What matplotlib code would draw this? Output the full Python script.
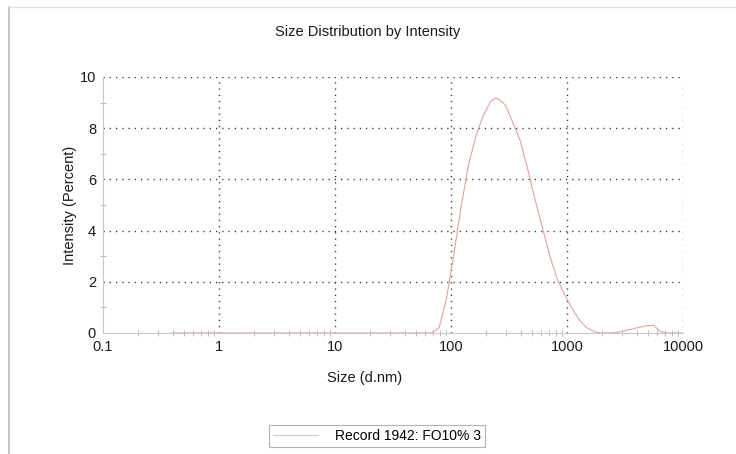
import matplotlib.pyplot as plt
from matplotlib.lines import Line2D
from matplotlib.ticker import LogLocator, FixedLocator, FixedFormatter, NullFormatter

plt.rcParams['font.family'] = ['Liberation Sans', 'DejaVu Sans']
plt.rcParams['font.size'] = 10

# size bins (d.nm) and intensity (%)
sizes = [0.4, 1, 10, 50, 68, 79, 91, 106, 122, 142, 164, 190, 220, 240, 255,
         295, 342, 396, 459, 531, 615, 712, 825, 955, 1106, 1281, 1484, 1718,
         1990, 2305, 2669, 3091, 3580, 4145, 4801, 5560, 6439, 7456, 8635, 10000]
intensity = [0, 0, 0, 0, 0, 0.2, 1.3, 3.1, 4.9, 6.6, 7.7, 8.5, 9.05, 9.17, 9.15,
             8.9, 8.2, 7.5, 6.4, 5.2, 4.1, 3.0, 2.1, 1.5, 0.95, 0.5, 0.2, 0.05,
             0, 0, 0.02, 0.08, 0.15, 0.22, 0.28, 0.3, 0.05, 0, 0, 0]

x_ticks = [0.1, 1, 10, 100, 1000, 10000]
x_labels = ['0.1', '1', '10', '100', '1000', '10000']
y_ticks = [0, 2, 4, 6, 8, 10]

fig = plt.figure(figsize=(7.36, 4.54), dpi=100)
ax = fig.add_axes([103 / 736, 1 - 333 / 454, 580 / 736, 256 / 454])

line, = ax.plot(sizes, intensity, color='#e2a2a2', lw=0.8,
                label='Record 1942: FO10% 3', zorder=3)

ax.set_xscale('log')
ax.set_xlim(0.1, 10000)
ax.set_ylim(0, 10)

ax.xaxis.set_major_locator(FixedLocator(x_ticks))
ax.xaxis.set_major_formatter(FixedFormatter(x_labels))
ax.xaxis.set_minor_locator(LogLocator(base=10, subs=range(2, 10)))
ax.xaxis.set_minor_formatter(NullFormatter())
ax.yaxis.set_major_locator(FixedLocator(y_ticks))
ax.yaxis.set_minor_locator(FixedLocator([1, 3, 5, 7, 9]))

ax.tick_params(which='major', length=0, pad=5, labelsize=10.5, labelcolor='#1a1a1a')
ax.tick_params(which='minor', direction='inout', length=5, width=0.6, color='#b0b0b0')

for side in ['top', 'right']:
    ax.spines[side].set_visible(False)
for side in ['left', 'bottom']:
    ax.spines[side].set_color('#c8c8c8')
    ax.spines[side].set_linewidth(0.8)

grid_style = dict(color='#333333', lw=1.0, linestyle=(0, (0.9, 3.6)), zorder=1)
for yv in y_ticks[1:]:
    ax.axhline(yv, **grid_style)
for xv in x_ticks[1:]:
    ax.axvline(xv, **grid_style)

ax.set_xlabel('Size (d.nm)', fontsize=10.5, color='#1a1a1a')
ax.set_ylabel('Intensity (Percent)', fontsize=10.5, color='#1a1a1a')
ax.xaxis.set_label_coords(0.5 - 28 / 580, -38 / 256)
ax.yaxis.set_label_coords(-33 / 580, 0.5)
ax.yaxis.label.set_va('center')

fig.text(0.5, 1 - 32 / 454, 'Size Distribution by Intensity', ha='center', va='center',
         fontsize=10.5, color='#1a1a1a')

leg = fig.legend(handles=[line], loc='center', bbox_to_anchor=(377 / 736, 1 - 436 / 454),
                 frameon=True, fancybox=False, fontsize=10, handlelength=3.2,
                 borderpad=0.3, handletextpad=1.2, borderaxespad=0)
leg.get_frame().set_edgecolor('#a0a0a0')
leg.get_frame().set_linewidth(0.8)
leg.get_lines()[0].set_color('#d8c8c8')

# outer frame of the report panel
fig.add_artist(Line2D([9 / 736, 9 / 736], [0, 1 - 7 / 454], color='#bbbbbb', lw=1.2,
                      transform=fig.transFigure))
fig.add_artist(Line2D([9 / 736, 1], [1 - 7 / 454, 1 - 7 / 454], color='#e2e2e2', lw=1.0,
                      transform=fig.transFigure))

fig.savefig('out.png', dpi=100)
